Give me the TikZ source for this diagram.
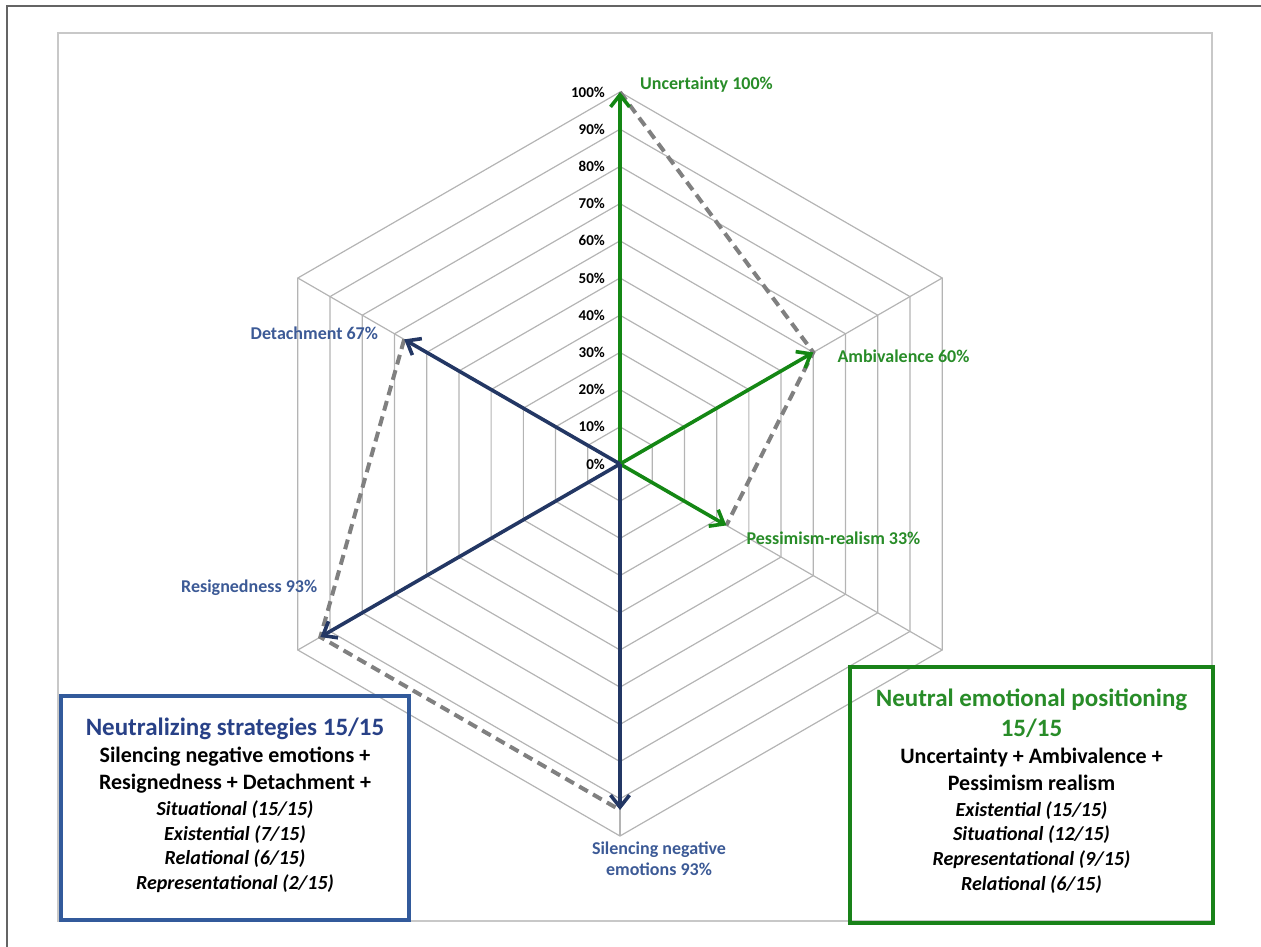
\documentclass[tikz,border=0pt]{standalone}
\usepackage{fontspec}
\setmainfont{Carlito}
\usepackage{xcolor}
\usepackage{tikz}
\usetikzlibrary{positioning, calc, arrows.meta}

\definecolor{gridgray}{RGB}{180,180,180}
\definecolor{framegray}{RGB}{200,200,200}
\definecolor{bordergray}{RGB}{100,100,100}
\definecolor{dashgray}{RGB}{128,128,128}
\definecolor{arrowgreen}{RGB}{20,135,20}
\definecolor{arrowblue}{RGB}{35,55,100}
\definecolor{lblgreen}{RGB}{40,140,40}
\definecolor{lblblue}{RGB}{60,90,150}
\definecolor{boxblue}{RGB}{50,90,155}
\definecolor{titleblue}{RGB}{40,65,135}
\definecolor{boxgreen}{RGB}{25,130,25}

\begin{document}
\begin{tikzpicture}[x=1pt, y=1pt, node distance=4.5pt,
        gridline/.style={draw=gridgray, line width=1.2pt},
        greenarrow/.style={->, draw=arrowgreen, line width=3.6pt},
        bluearrow/.style={->, draw=arrowblue, line width=3.6pt},
        dashline/.style={draw=dashgray, line width=4pt, dash pattern=on 10pt off 6pt},
        pct/.style={anchor=east, inner sep=0pt, font=\fontsize{15}{18}\selectfont\bfseries},
        axisgreen/.style={text=lblgreen, inner sep=0pt, font=\fontsize{18}{21}\selectfont\bfseries},
        axisblue/.style={text=lblblue, inner sep=0pt, font=\fontsize{18}{21}\selectfont\bfseries},
        boxtitle/.style={inner sep=0pt, text height=18.75pt, text depth=6.25pt, font=\fontsize{25}{30}\selectfont\bfseries},
        boxmain/.style={inner sep=0pt, text height=16.5pt, text depth=5.5pt, font=\fontsize{22}{26}\selectfont\bfseries},
        boxsub/.style={inner sep=0pt, text height=15pt, text depth=5pt, font=\fontsize{20}{24}\selectfont\bfseries\itshape},
        >={Straight Barb[length=12pt, width=19pt]}]

        \useasboundingbox (0,0) rectangle (1261,-947);

        % Frames
        \draw[bordergray, line width=2pt] (7,-947) -- (7,-6) -- (1261,-6);
        \draw[framegray, line width=2pt] (58,-33) rectangle (1212,-921);

        % Grid
        \coordinate (C) at (620,-464);
        \foreach \k in {1,...,10}
            \draw[gridline, shift={(C)}] (90:{37.2*\k}) -- (30:{37.2*\k}) -- (-30:{37.2*\k})
                -- (-90:{37.2*\k}) -- (-150:{37.2*\k}) -- (150:{37.2*\k}) -- cycle;
        \foreach \a in {90,30,-30,-90,-150,150}
            \draw[gridline, shift={(C)}] (0,0) -- (\a:372);

        % Scale
        \foreach \p in {0,10,...,100}
            \node[pct] at ($(C)+(-15,{3.72*\p})$) {\p\%};

        % Points
        \coordinate (unc) at ($(C)+(90:372)$);
        \coordinate (amb) at ($(C)+(30:223.2)$);
        \coordinate (pes) at ($(C)+(-30:122.8)$);
        \coordinate (sil) at ($(C)+(-90:346)$);
        \coordinate (res) at ($(C)+(-150:346)$);
        \coordinate (det) at ($(C)+(150:249.2)$);

        % Dashed outline
        \draw[dashline] (unc) -- (amb) -- (pes);
        \draw[dashline] (det) -- (res) -- (sil);

        % Arrows
        \draw[greenarrow] (C) -- (unc);
        \draw[greenarrow] (C) -- (amb);
        \draw[greenarrow] (C) -- (pes);
        \draw[bluearrow] (C) -- (sil);
        \draw[bluearrow] (C) -- (res);
        \draw[bluearrow] (C) -- (det);

        % Axis labels
        \node (uncLbl) [axisgreen, right=20pt of unc, yshift=7pt] {Uncertainty 100\%};
        \node (ambLbl) [axisgreen, right=24pt of amb, yshift=-4pt] {Ambivalence 60\%};
        \node (pesLbl) [axisgreen, right=20pt of pes, yshift=-13pt] {Pessimism-realism 33\%};
        \node (detLbl) [axisblue, left=26pt of det, yshift=6pt] {Detachment 67\%};
        \node (resLbl) [axisblue, left=3pt of res, yshift=49pt] {Resignedness 93\%};
        \node (silLbl) [axisblue, align=center] at ($(sil)+(39,-49)$) {Silencing negative\\emotions 93\%};

        % Neutralizing box
        \node (neuBox) [draw=boxblue, line width=3.5pt, minimum width=348pt, minimum height=224pt] at (235,-808) {};
        \node (neu0) [boxtitle, text=titleblue, below=22pt of neuBox.north] {Neutralizing strategies 15/15};
        \node (neu1) [boxmain, below=of neu0] {Silencing negative emotions +};
        \node (neu2) [boxmain, below=of neu1] {Resignedness + Detachment +};
        \node (neu3) [boxsub, below=of neu2] {Situational (15/15)};
        \node (neu4) [boxsub, below=of neu3] {Existential (7/15)};
        \node (neu5) [boxsub, below=of neu4] {Relational (6/15)};
        \node (neu6) [boxsub, below=of neu5] {Representational (2/15)};

        % Neutral box
        \node (nepBox) [draw=boxgreen, line width=3.5pt, minimum width=363pt, minimum height=256pt] at (1031.5,-795) {};
        \node (nep0) [boxtitle, text=lblgreen, below=22pt of nepBox.north] {Neutral emotional positioning};
        \node (nep1) [boxtitle, text=lblgreen, below=of nep0] {15/15};
        \node (nep2) [boxmain, below=of nep1] {Uncertainty + Ambivalence +};
        \node (nep3) [boxmain, below=of nep2] {Pessimism realism};
        \node (nep4) [boxsub, below=of nep3] {Existential (15/15)};
        \node (nep5) [boxsub, below=of nep4] {Situational (12/15)};
        \node (nep6) [boxsub, below=of nep5] {Representational (9/15)};
        \node (nep7) [boxsub, below=of nep6] {Relational (6/15)};

\end{tikzpicture}
\end{document}
